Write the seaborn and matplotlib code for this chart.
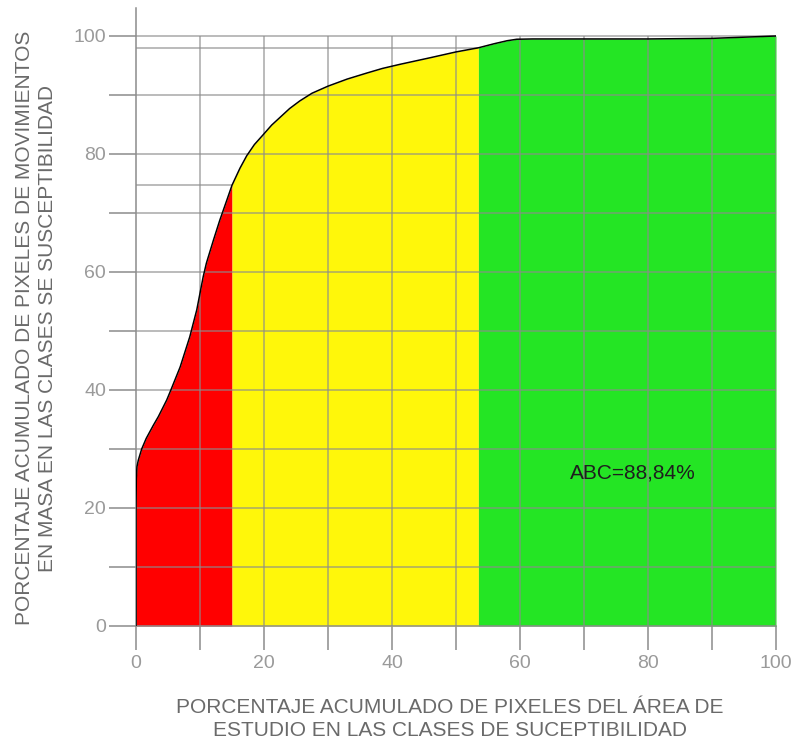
import numpy as np
import pandas as pd
import matplotlib
matplotlib.use("Agg")
import matplotlib.pyplot as plt
import seaborn as sns

# ---- data ----
area_pct = [0, 0, 0.05, 0.15, 0.36, 0.89, 1.6, 2.7, 3.5, 4.8, 5.3, 6.9, 8.4,
            9.5, 10.0, 10.5, 11.0, 12.1, 13.1, 14.2, 15.0, 16.25, 17.3, 18.5,
            19.9, 21.2, 22.5, 24.0, 25.6, 27.5, 30, 33, 36, 38.5, 41.25, 45.9,
            50, 53.5, 56, 58, 59.5, 62, 70, 80, 90, 100]
landslide_pct = [0, 20, 25, 27, 28.1, 30.0, 31.8, 34.0, 35.5, 38.3, 39.6, 43.9,
                 49.0, 53.6, 56.4, 59.2, 61.5, 65.4, 68.8, 72.2, 74.7, 77.6,
                 79.7, 81.6, 83.3, 84.9, 86.2, 87.7, 89.0, 90.3, 91.5, 92.7,
                 93.7, 94.5, 95.2, 96.3, 97.3, 98.0, 98.7, 99.2, 99.45, 99.5,
                 99.5, 99.5, 99.6, 100]
class_limits = [0, 15.0, 53.5, 100]
class_colors = ["#FF0000", "#FFF70A", "#24E524"]
abc_text = "ABC=88,84%"
x_label = "PORCENTAJE ACUMULADO DE PIXELES DEL ÁREA DE\nESTUDIO EN LAS CLASES DE SUCEPTIBILIDAD"
y_label = "PORCENTAJE ACUMULADO DE PIXELES DE MOVIMIENTOS\nEN MASA EN LAS CLASES SE SUSCEPTIBILIDAD"
x_ticks = [0, 20, 40, 60, 80, 100]
y_ticks = [0, 20, 40, 60, 80, 100]

df = pd.DataFrame({"x": area_pct, "y": landslide_pct})

sns.set_theme(style="white")
plt.rcParams["font.family"] = ["Liberation Sans", "DejaVu Sans"]

W, H = 807, 740
fig = plt.figure(figsize=(W / 100, H / 100), dpi=100)
px_per_y = 5.9
ax = fig.add_axes([136 / W, (H - 626) / H, 640 / W, (626 - 8) / H])
ax.set_xlim(0, 100)
ax.set_ylim(0, (626 - 8) / px_per_y)

grid_c = "#8c8c8c"
xs = np.array(area_pct, dtype=float)
ys = np.array(landslide_pct, dtype=float)
for i in range(len(class_limits) - 1):
    a, b = class_limits[i], class_limits[i + 1]
    m = (xs >= a) & (xs <= b)
    ax.fill_between(xs[m], 0, ys[m], color=class_colors[i], linewidth=0, zorder=1)

# grid lines (limited to 0..100)
grid_vals = np.arange(10, 101, 10)
ax.vlines(grid_vals, 0, 100, colors=grid_c, linewidth=1.1, alpha=0.75, zorder=2)
ax.hlines(grid_vals, 0, 100, colors=grid_c, linewidth=1.1, alpha=0.75, zorder=2)
for b in class_limits[1:-1]:
    yb = np.interp(b, xs[1:], ys[1:])
    ax.hlines(yb, 0, b, colors=grid_c, linewidth=1.1, alpha=0.75, zorder=2)

# curve
sns.lineplot(data=df, x="x", y="y", ax=ax, color="black", linewidth=1.1,
             estimator=None, sort=False, zorder=4)

ax.text(77.7, 25.9, abc_text, ha="center", va="center", fontsize=15,
        color="#1e1e1e", zorder=5)

for s in ["top", "right"]:
    ax.spines[s].set_visible(False)
for s in ["left", "bottom"]:
    ax.spines[s].set_color(grid_c)
    ax.spines[s].set_linewidth(1.1)
ax.spines["bottom"].set_bounds(0, 100)

ax.set_xticks(x_ticks)
ax.set_yticks(y_ticks)
ax.set_xticks(np.arange(10, 100, 20), minor=True)
ax.set_yticks(np.arange(10, 100, 20), minor=True)
ax.tick_params(axis="x", which="both", length=17, width=1.1, color=grid_c,
               labelsize=14, labelcolor="#9a9a9a", pad=4, direction="out", bottom=True)
ax.tick_params(axis="y", which="both", length=19.5, width=1.1, color=grid_c,
               labelsize=14, labelcolor="#9a9a9a", pad=2, direction="out", left=True)
ax.set_xlabel("")
ax.set_ylabel("")

fig.text(450 / W, (H - 719) / H, x_label, ha="center", va="center", fontsize=15,
         color="#6a6a6a", linespacing=1.22, multialignment="center")
fig.text(36 / W, (H - 328) / H, y_label, ha="center", va="center", fontsize=15,
         color="#6a6a6a", linespacing=1.22, rotation=90, multialignment="center")

fig.savefig("out.png", dpi=100)
